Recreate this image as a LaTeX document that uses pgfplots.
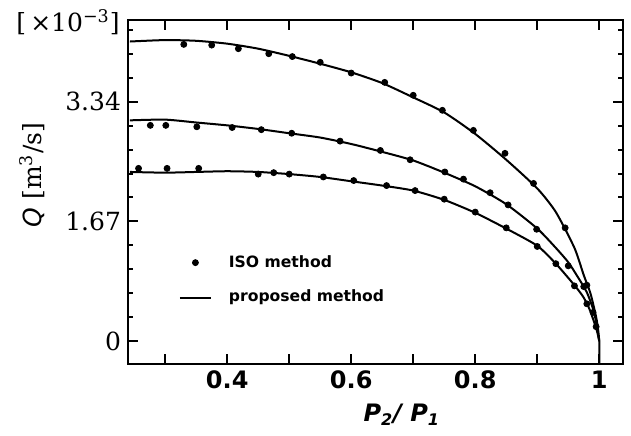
\documentclass[border=0pt]{standalone}
\usepackage{pgfplots}
\pgfplotsset{compat=1.18}
\usepackage{fontspec}
\setmainfont{DejaVu Serif}
\setsansfont{DejaVu Sans}
\pgfplotsset{
  mylinelegend/.style={legend image code/.code={\draw[##1] (0pt,0pt) -- (15.5pt,0pt);}},
  mymarklegend/.style={legend image code/.code={\draw[##1] plot coordinates {(7.75pt,0pt)};}},
}
\begin{document}
\begin{tikzpicture}
\path (-64pt,-35.5pt) rectangle (251.5pt,182pt);
\begin{axis}[
  at={(0pt,0pt)}, anchor=south west,
  scale only axis, width=247.4pt, height=172pt,
  xmin=0.24, xmax=1.038, ymin=-0.32, ymax=4.48,
  axis line style={line width=1.2pt, black},
  tick align=inside,
  xtick={0.3,0.4,0.5,0.6,0.7,0.8,0.9,1.0},
  xticklabels={,0.4,,0.6,,0.8,,1},
  ytick={0,1.67,3.34}, yticklabels={0,1.67,3.34},
  minor ytick={0.334,0.668,1.002,1.336,2.004,2.338,2.672,3.006,3.674,4.008,4.342},
  major tick length=5pt, minor tick length=2.5pt,
  tick style={line width=1pt, black},
  xticklabel style={font=\fontsize{12}{14}\sffamily\bfseries},
  yticklabel style={font=\fontsize{12.5}{14}\rmfamily},
  legend style={draw=none, fill=none, at={(0.09,0.244)}, anchor=west,
    font=\fontsize{7.8}{9}\sffamily\bfseries, row sep=6pt, column sep=6.5pt},
  legend cell align=left,
]
\addlegendimage{only marks, mark=*, mark size=1.5pt, black, mymarklegend}
\addlegendimage{line width=1pt, black, mylinelegend}
\legend{ISO method, proposed method}

% proposed method curves
\addplot[black, line width=1pt, smooth, tension=0.4, forget plot] coordinates {
(0.243,4.18)(0.30,4.20)(0.35,4.19)(0.40,4.15)(0.45,4.08)(0.50,3.98)(0.55,3.87)(0.60,3.75)(0.65,3.60)(0.70,3.40)(0.75,3.19)(0.80,2.89)(0.85,2.53)(0.90,2.13)(0.93,1.80)(0.96,1.30)(0.975,0.92)(0.986,0.66)(0.996,0.29)(1.0,0)(1.0,-0.32)};
\addplot[black, line width=1pt, smooth, tension=0.4, forget plot] coordinates {
(0.243,3.08)(0.30,3.09)(0.35,3.05)(0.40,3.01)(0.45,2.96)(0.50,2.90)(0.55,2.84)(0.60,2.75)(0.65,2.64)(0.70,2.52)(0.75,2.35)(0.80,2.16)(0.85,1.91)(0.90,1.57)(0.93,1.30)(0.95,1.10)(0.965,0.90)(0.98,0.68)(0.992,0.39)(1.0,0)};
\addplot[black, line width=1pt, smooth, tension=0.4, forget plot] coordinates {
(0.243,2.36)(0.30,2.35)(0.35,2.36)(0.40,2.37)(0.45,2.36)(0.50,2.33)(0.55,2.29)(0.60,2.23)(0.65,2.17)(0.70,2.10)(0.75,1.97)(0.80,1.79)(0.85,1.57)(0.90,1.33)(0.93,1.08)(0.958,0.80)(0.974,0.62)(0.985,0.43)(0.996,0.15)(1.0,0)};

% ISO method points
\addplot[only marks, mark=*, mark size=1.5pt, black, forget plot] coordinates {
(0.33,4.14)(0.375,4.13)(0.418,4.08)(0.467,4.01)(0.505,3.97)(0.55,3.89)(0.60,3.74)(0.654,3.61)(0.70,3.43)(0.747,3.22)(0.797,2.94)(0.848,2.62)(0.894,2.20)(0.945,1.58)(0.98,0.78)};
\addplot[only marks, mark=*, mark size=1.5pt, black, forget plot] coordinates {
(0.276,3.01)(0.301,3.01)(0.351,2.99)(0.408,2.98)(0.455,2.95)(0.504,2.90)(0.582,2.79)(0.647,2.66)(0.695,2.53)(0.751,2.36)(0.781,2.26)(0.824,2.07)(0.853,1.90)(0.899,1.56)(0.95,1.05)(0.975,0.76)(0.99,0.40)};
\addplot[only marks, mark=*, mark size=1.5pt, black, forget plot] coordinates {
(0.257,2.41)(0.303,2.41)(0.354,2.41)(0.45,2.33)(0.475,2.35)(0.50,2.33)(0.555,2.29)(0.604,2.24)(0.657,2.17)(0.703,2.10)(0.75,1.98)(0.80,1.80)(0.85,1.58)(0.90,1.32)(0.93,1.08)(0.96,0.77)(0.98,0.52)(0.995,0.20)};
\end{axis}
\node[anchor=east, font=\fontsize{12.5}{14}\rmfamily, inner sep=0pt] at (-4pt,171pt) {[\,×10\textsuperscript{−3}]};
\node[rotate=90, font=\fontsize{12.5}{14}\rmfamily, inner sep=0pt] at (-48pt,94.5pt) {{\sffamily\itshape Q} [m\textsuperscript{3}/s]};
\node[font=\fontsize{12}{14}\sffamily\bfseries\itshape, inner sep=0pt] at (136.9pt,-25.5pt) {P\textsubscript{2}/ P\textsubscript{1}};
\end{tikzpicture}
\end{document}
